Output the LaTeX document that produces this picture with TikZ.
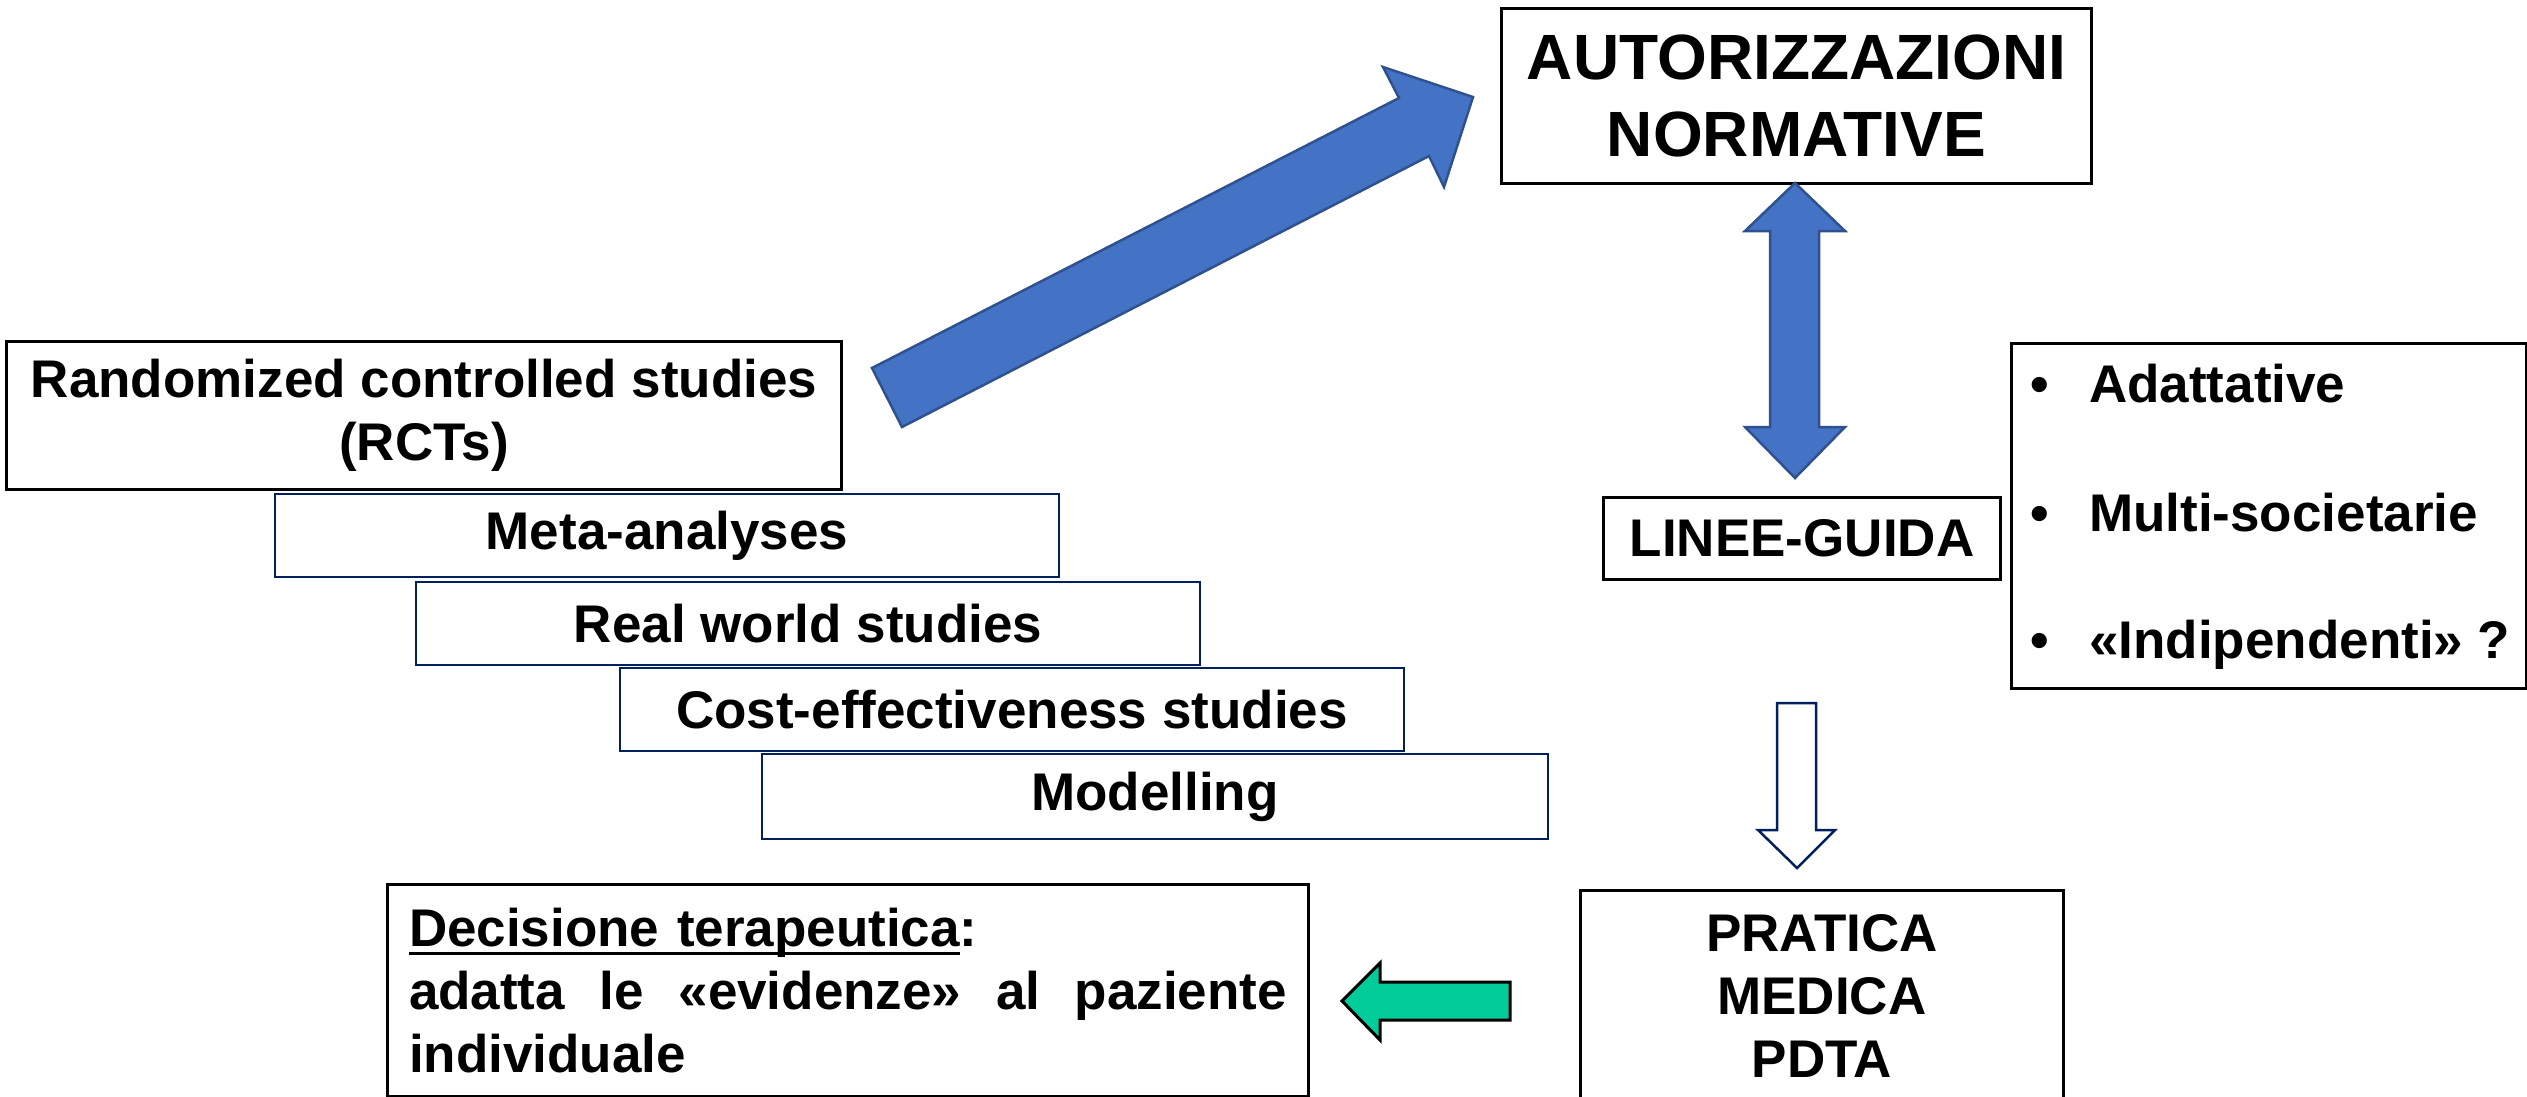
\documentclass[tikz,border=0pt]{standalone}
\usepackage{fontspec}
\setmainfont{Liberation Sans}
\definecolor{arrowblue}{HTML}{4472C4}
\definecolor{arrowedge}{HTML}{2F528F}
\definecolor{navyline}{HTML}{002060}
\definecolor{greenarrow}{HTML}{00CC99}
\newcommand\myul[1]{\setbox0\hbox{#1}\rlap{\rule[-9pt]{\wd0}{3pt}}\box0}
\tikzset{
  bx/.style={draw=black, line width=3pt, inner sep=0pt, anchor=north west, align=center,
             font=\bfseries\fontsize{53}{63}\selectfont},
  nbx/.style={bx, draw=navyline, line width=2pt},
  txt/.style={inner sep=0pt, anchor=base west, font=\bfseries\fontsize{53}{63}\selectfont},
  bluearrow/.style={fill=arrowblue, draw=arrowedge, line width=2.5pt, line join=miter},
  hollowarrow/.style={fill=white, draw=navyline, line width=2.5pt, line join=miter},
  greenblock/.style={fill=greenarrow, draw=black, line width=3pt, line join=miter}
}
\begin{document}
\begin{tikzpicture}[x=1pt, y=-1pt]
\useasboundingbox (0,0) rectangle (2527,1097);
% boxes
\node[bx, minimum width=590pt, minimum height=175pt,
      font=\bfseries\fontsize{64}{77}\selectfont] (auth) at (1500,7) {AUTORIZZAZIONI\\NORMATIVE};
\node[bx, minimum width=835pt, minimum height=148pt] (rct) at (5,340) {Randomized controlled studies\\(RCTs)};
\node[nbx, minimum width=784pt, minimum height=83pt] (meta) at (274,493) {Meta-analyses};
\node[nbx, minimum width=784pt, minimum height=83pt] (real) at (415,581) {Real world studies};
\node[nbx, minimum width=784pt, minimum height=83pt] (cost) at (619,667) {Cost-effectiveness studies};
\node[nbx, minimum width=786pt, minimum height=85pt] (model) at (761,753) {Modelling};
\node[bx, minimum width=397pt, minimum height=82pt] (linee) at (1602,496) {LINEE-GUIDA};
\node[bx, minimum width=515pt, minimum height=345pt] (bul) at (2010,342) {};
\node[txt] (b1) at (2030,402) {\makebox[59pt][l]{•}Adattative};
\node[txt] (b2) at (2030,531) {\makebox[59pt][l]{•}Multi-societarie};
\node[txt] (b3) at (2030,658) {\makebox[59pt][l]{•}«Indipendenti» ?};
\node[bx, minimum width=483pt, minimum height=211pt] (prat) at (1579,889) {PRATICA\\MEDICA\\PDTA};
\node[bx, minimum width=921pt, minimum height=212pt, align=left, text width=878pt] (dec) at (386,883)
  {\myul{Decisione terapeutica}:\\
   \leavevmode\hbox to 878pt{adatta\hfill le\hfill «evidenze»\hfill al\hfill paziente}\\
   individuale};
% arrows
\draw[bluearrow] (872,368) -- (1399,98) -- (1383,67) -- (1473,97) -- (1444,187)
  -- (1429,156) -- (902,427) -- cycle;
\draw[bluearrow] (1795,183) -- (1845,231) -- (1819,231) -- (1819,427) -- (1845,427)
  -- (1795,478) -- (1745,427) -- (1770,427) -- (1770,231) -- (1745,231) -- cycle;
\draw[hollowarrow] (1777,703) -- (1816,703) -- (1816,830) -- (1835,830) -- (1797,868)
  -- (1758,830) -- (1777,830) -- cycle;
\draw[greenblock] (1342,1001) -- (1380,963) -- (1380,982) -- (1510,982) -- (1510,1020)
  -- (1380,1020) -- (1380,1040) -- cycle;
\end{tikzpicture}
\end{document}
